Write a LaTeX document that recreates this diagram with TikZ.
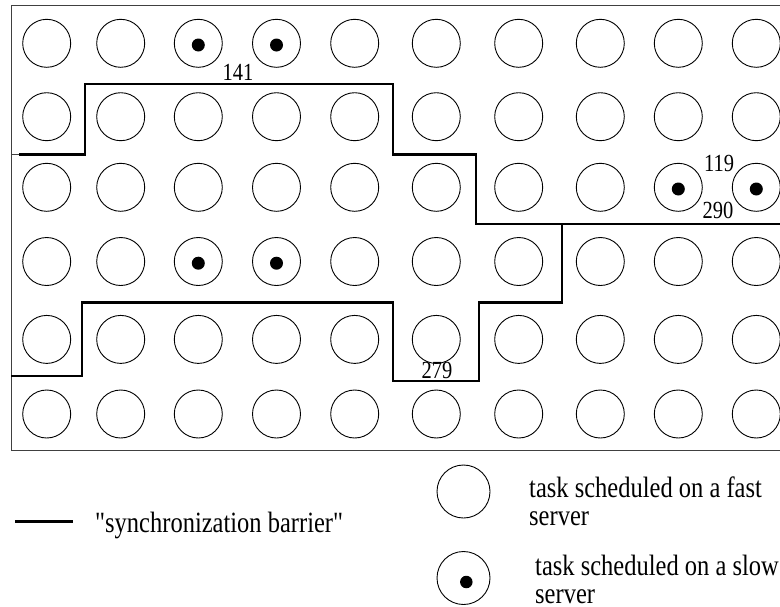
\documentclass[tikz,border=0pt]{standalone}
\usepackage{fontspec}
\setmainfont{Liberation Serif}[Ligatures=TeXOff]
\begin{document}
\begin{tikzpicture}[x=1pt,y=-1pt]
\tikzset{
  task/.style={circle,draw,line width=0.9pt,minimum size=48pt,inner sep=0pt},
  slowdot/.style={circle,fill,minimum size=13pt,inner sep=0pt},
  barrier/.style={line width=2.6pt,line join=miter},
  frameline/.style={draw=black!75,line width=0.9pt},
  lbl/.style={inner sep=0pt,font=\fontsize{20.5}{24}\selectfont},
  legtext/.style={inner sep=0pt,anchor=base west,font=\fontsize{24.5}{28}\selectfont},
}
\useasboundingbox (0,0) rectangle (780,606);
\clip (0,0) rectangle (780,606);
% frame
\draw[frameline] (11,5) rectangle (800,450);
% task grid
\foreach \x [count=\i] in {46.7,120.7,198.3,276.5,354.7,436.3,518.7,600.3,678.3,756.3}
  \foreach \y [count=\j] in {43.3,116.7,187.3,261.5,339.4,414}
    \node[task] (c\j-\i) at (\x,\y) {};
% slow-server tasks
\foreach \n in {1-3,1-4,3-9,3-10,4-3,4-4}
  \node[slowdot,yshift=-1.7pt] (d\n) at (c\n.center) {};
% synchronization barriers
\draw[frameline] (11,154.3) -- (19,154.3);
\draw[barrier] (19,154.3) -- (85,154.3) -- (85,84) -- (393,84) -- (393,154.3)
  -- (476,154.3) -- (476,224) -- (790,224);
\draw[barrier] (11,376) -- (82,376) -- (82,302.5) -- (393,302.5) -- (393,381)
  -- (479,381) -- (479,302.5) -- (562,302.5) -- (562,224);
% labels
\node[lbl] (l141) at (238,72) {\scalebox{1}[1.2]{141}};
\node[lbl] (l119) at (719,163) {\scalebox{1}[1.2]{119}};
\node[lbl] (l290) at (718,210.7) {\scalebox{1}[1.2]{290}};
\node[lbl] (l279) at (437,370) {\scalebox{1}[1.2]{279}};
% legend
\coordinate (bl1) at (15,521.7);
\coordinate (bl2) at (73,521.7);
\draw[barrier] (bl1) -- (bl2);
\node[legtext] (tbar) at (95,532.7) {\scalebox{1}[1.2]{"synchronization barrier"}};
\node[task,minimum size=53pt] (lfast) at (463.5,491.5) {};
\node[task,minimum size=53pt] (lslow) at (463.5,578) {};
\node[slowdot,minimum size=12.5pt] (ldot) at (466.3,582) {};
\node[legtext] (tf1) at (529,497.5) {\scalebox{1}[1.2]{task scheduled on a fast}};
\node[legtext] (tf2) at (529,525) {\scalebox{1}[1.2]{server}};
\node[legtext] (ts1) at (535,575.5) {\scalebox{1}[1.2]{task scheduled on a slow}};
\node[legtext] (ts2) at (535,603) {\scalebox{1}[1.2]{server}};
\end{tikzpicture}
\end{document}
